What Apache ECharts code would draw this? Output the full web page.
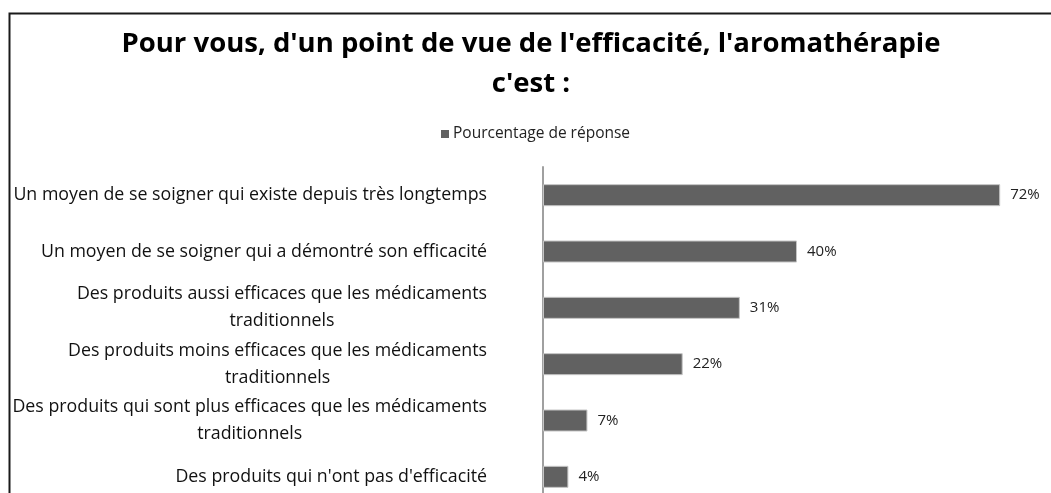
<!DOCTYPE html>
<html>
<head>
<meta charset="utf-8">
<script src="https://cdn.jsdelivr.net/npm/echarts@6/dist/echarts.min.js"></script>
<style>
html,body{margin:0;padding:0;background:#fff;overflow:hidden;}
#chart{width:1051px;height:520px;}
</style>
</head>
<body>
<div id="chart"></div>
<script>
const titleText = "Pour vous, d'un point de vue de l'efficacité, l'aromathérapie\nc'est :";
const seriesName = "Pourcentage de réponse";
const categories = [
  "Un moyen de se soigner qui existe depuis très longtemps",
  "Un moyen de se soigner qui a démontré son efficacité",
  "Des produits aussi efficaces que les médicaments\ntraditionnels",
  "Des produits moins efficaces que les médicaments\ntraditionnels",
  "Des produits qui sont plus efficaces que les médicaments\ntraditionnels",
  "Des produits qui n'ont pas d'efficacité"
];
const values = [72, 40, 31, 22, 7, 4];

const FONT = "'Open Sans', 'Noto Sans', sans-serif";
const chart = echarts.init(document.getElementById('chart'), null, {renderer: 'canvas'});
chart.setOption({
  animation: false,
  backgroundColor: '#fff',
  graphic: [{
    type: 'rect', left: 7, top: 11, silent: true, z: -1,
    shape: {width: 1100, height: 600},
    style: {fill: 'none', stroke: '#1a1a1a', lineWidth: 2}
  }],
  title: {
    text: titleText,
    left: 526, top: 19, textAlign: 'center',
    textStyle: {fontFamily: FONT, fontWeight: 'bold', fontSize: 27.5, lineHeight: 40, color: '#000'}
  },
  legend: {
    data: [seriesName],
    left: 436, top: 121,
    icon: 'rect', itemWidth: 8, itemHeight: 8, itemGap: 5,
    itemStyle: {borderWidth: 0},
    textStyle: {fontFamily: FONT, fontSize: 15.5, color: '#222', padding: [0,0,0,-1]}
  },
  grid: {left: 543, top: 167, right: 0, bottom: 15, containLabel: false},
  xAxis: {type: 'value', min: 0, max: 80, show: false},
  yAxis: {
    type: 'category', data: categories, inverse: true,
    axisLine: {show: true, lineStyle: {color: '#a0a0a0', width: 2}},
    axisTick: {show: false},
    axisLabel: {
      margin: 56, align: 'right', color: '#111',
      fontFamily: FONT, fontSize: 17.8, lineHeight: 27,
      formatter: v => v.split('\n').map(l => '{c|' + l + '}').join('\n'),
      rich: {c: {align: 'center', fontFamily: FONT, fontSize: 17.8, lineHeight: 27, color: '#111'}}
    }
  },
  series: [{
    name: seriesName, type: 'bar', data: values,
    barWidth: 22,
    itemStyle: {color: '#616161', borderColor: '#c4c4c4', borderWidth: 1},
    label: {show: true, position: 'right', distance: 10, formatter: '{c}%',
      fontFamily: FONT, fontSize: 15, color: '#222'}
  }]
});
</script>
</body>
</html>
